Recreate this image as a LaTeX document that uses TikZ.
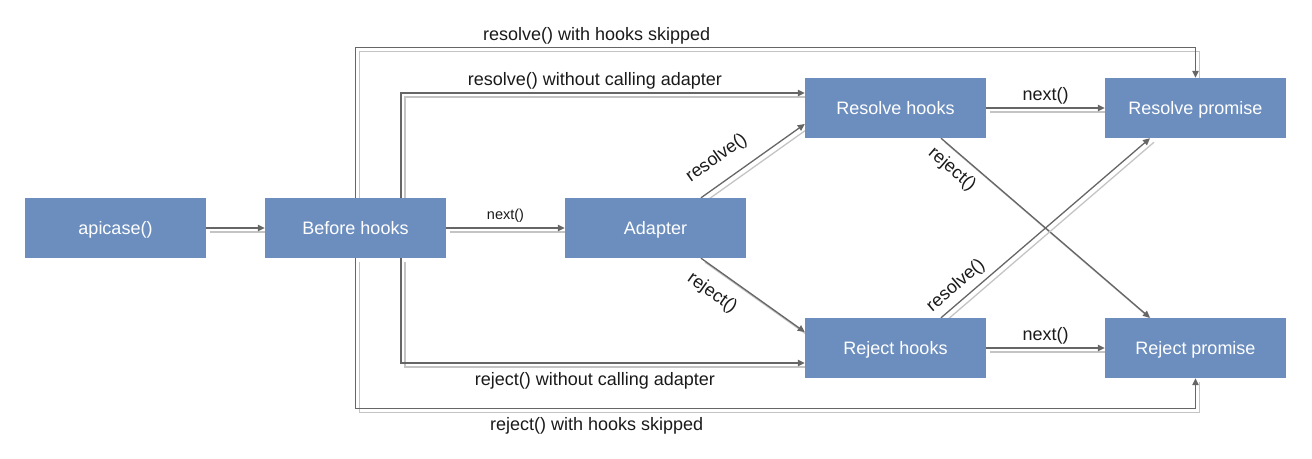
\documentclass[tikz,border=0pt]{standalone}
\usepackage{fontspec}
\setmainfont{Liberation Sans}
\usetikzlibrary{calc,arrows.meta}
\pgfdeclarelayer{background}
\pgfsetlayers{background,main}
\definecolor{boxblue}{HTML}{6C8EBF}
\definecolor{linegray}{HTML}{666666}
\definecolor{shadowgray}{HTML}{C4C4C4}
\definecolor{txt}{HTML}{1A1A1A}
\tikzset{
  stepbox/.style={rectangle, fill=boxblue, draw=none, minimum width=181pt, minimum height=60pt, inner sep=0pt, text=white, text height=16pt, text depth=3pt, font=\fontsize{18}{21}\selectfont},
  conn/.style={draw=linegray, line width=1.3pt, -{Triangle[length=7pt,width=6.5pt]},
    preaction={draw=shadowgray, line width=1.3pt, arrows=-, transform canvas={shift={(4pt,-4pt)}}}},
  lbl/.style={font=\fontsize{18}{21}\selectfont, text=txt, inner sep=0pt},
  smalllbl/.style={font=\fontsize{14.5}{17}\selectfont, text=txt, inner sep=0pt}
}
\begin{document}
\begin{tikzpicture}[x=1pt,y=-1pt]
\useasboundingbox (0,0) rectangle (1312,458);
\node[stepbox] (api) at (115.5,228) {apicase()};
\node[stepbox] (before) at (355.5,228) {Before hooks};
\node[stepbox] (adapter) at (655.5,228) {Adapter};
\node[stepbox] (rh) at (895.5,108) {Resolve hooks};
\node[stepbox] (rp) at (1195.5,108) {Resolve promise};
\node[stepbox] (jh) at (895.5,348) {Reject hooks};
\node[stepbox] (jp) at (1195.5,348) {Reject promise};
\begin{pgfonlayer}{background}
\draw[conn] (api) -- (before);
\draw[conn] (before) -- node[smalllbl, above=5pt, pos=0.5] {next()} (adapter);
\draw[conn] (rh) -- node[lbl, above=3pt] {next()} (rp);
\draw[conn] (jh) -- node[lbl, above=3pt] {next()} (jp);
\draw[conn] ($(adapter.north)+(45.5,0)$) -- node[lbl, sloped, above=14pt, pos=0.28] {resolve()} ($(rh.west)+(0,16)$);
\draw[conn] ($(adapter.south)+(45.5,0)$) -- node[lbl, sloped, below=13pt, pos=0.23] {reject()} ($(jh.west)+(0,-16)$);
\draw[conn] ($(rh.south)+(45.5,0)$) -- node[lbl, sloped, below=7.5pt, pos=0.104] {reject()} ($(jp.north)+(-45.5,0)$);
\draw[conn] ($(jh.north)+(45.5,0)$) -- node[lbl, sloped, above=5.5pt, pos=0.117] {resolve()} ($(rp.south)+(-45.5,0)$);
\draw[conn] ($(before.north)+(45.5,0)$) |- node[lbl, above=3pt, pos=0.74] {resolve() without calling adapter} ($(rh.west)+(0,-15)$);
\draw[conn] ($(before.south)+(45.5,0)$) |- node[lbl, below=9pt, pos=0.74] {reject() without calling adapter} ($(jh.west)+(0,15)$);
\draw[conn] (before.north) -- ++(0,-150) -| node[lbl, above=3pt, pos=0.1435] {resolve() with hooks skipped} (rp.north);
\draw[conn] (before.south) -- ++(0,150) -| node[lbl, below=9pt, pos=0.1435] {reject() with hooks skipped} (jp.south);
\end{pgfonlayer}
\end{tikzpicture}
\end{document}
